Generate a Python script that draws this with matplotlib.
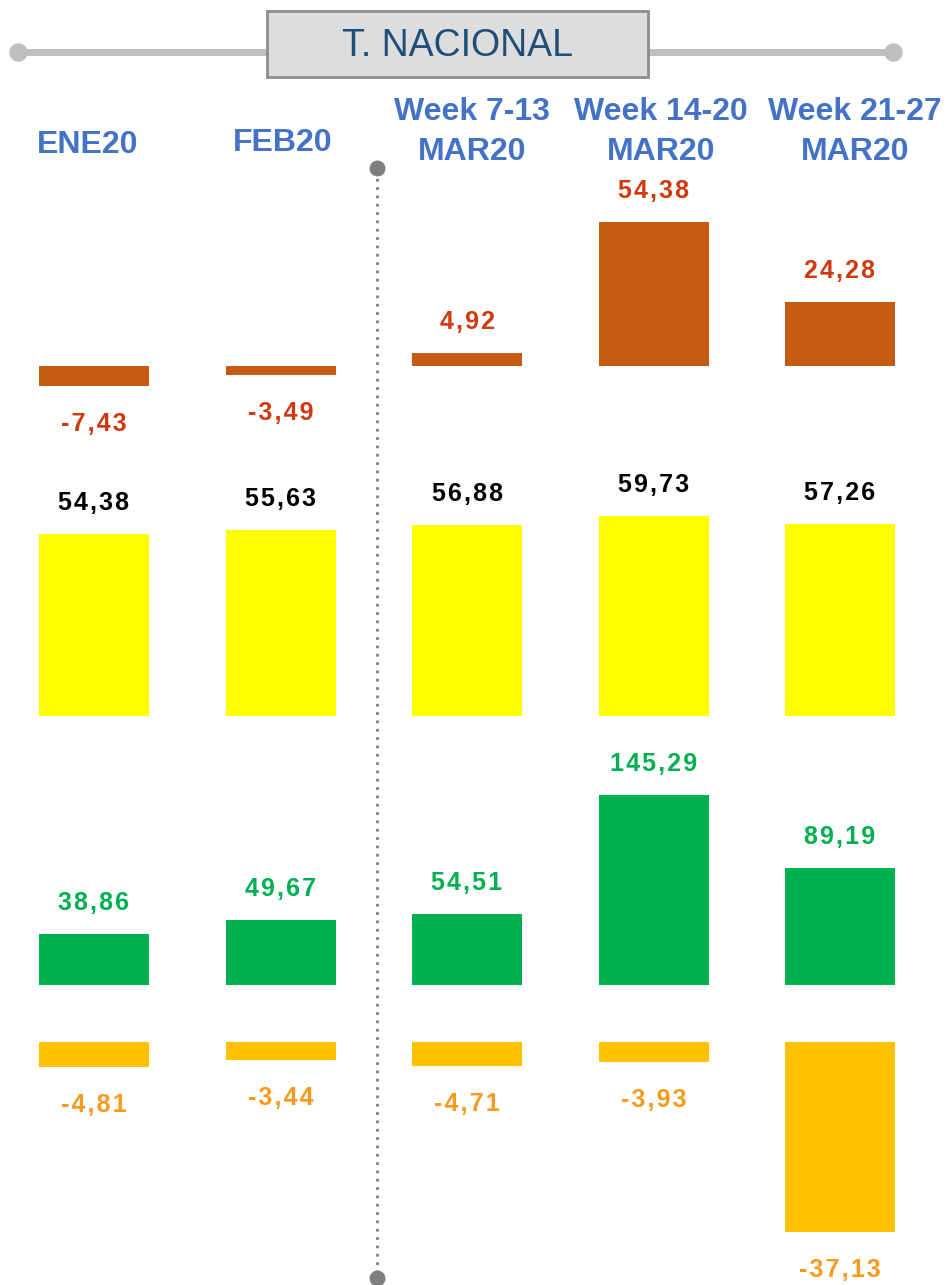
import matplotlib
matplotlib.use("Agg")
import matplotlib.pyplot as plt
from matplotlib.patches import Rectangle
import numpy as np

W, H = 951, 1285

# periods shown as columns
periods = ["ENE20", "FEB20", "Week 7-13\nMAR20", "Week 14-20\nMAR20", "Week 21-27\nMAR20"]

# four rows of indicators
row1 = [-7.43, -3.49, 4.92, 54.38, 24.28]
row2 = [54.38, 55.63, 56.88, 59.73, 57.26]
row3 = [38.86, 49.67, 54.51, 145.29, 89.19]
row4 = [-4.81, -3.44, -4.71, -3.93, -37.13]

rows = [row1, row2, row3, row4]
bar_colors = ["#C55A11", "#FFFF00", "#00B050", "#FFC000"]
text_colors = ["#D0390F", "#000000", "#00B050", "#F79A1E"]
# baseline (px from top) and px per unit for each row
baselines = [366, 716, 985, 1042]
scales = [2.65, 3.35, 1.31, 5.12]

fig = plt.figure(figsize=(W / 100, H / 100), dpi=100)

x = np.arange(len(periods))
step = 186.5
x0 = 94
xlim = (-x0 / step, (W - x0) / step)
bw = 110 / step

FAM = ["Liberation Sans", "DejaVu Sans"]


def fmt(v):
    s = "{:.2f}".format(v).replace(".", ",")
    return "\u200a".join(s)  # slight letter spacing like the original


for vals, bc, tc, base, sc in zip(rows, bar_colors, text_colors, baselines, scales):
    top_px = base - 230
    bot_px = base + 230
    ax = fig.add_axes([0, 1 - bot_px / H, 1, (bot_px - top_px) / H])
    ax.set_xlim(*xlim)
    ax.set_ylim(-(bot_px - base) / sc, (base - top_px) / sc)
    ax.axis("off")
    ax.patch.set_alpha(0)
    ax.bar(x, vals, width=bw, color=bc)
    for xi, v in zip(x, vals):
        off = 31 / sc if v >= 0 else -38 / sc
        ax.text(xi, v + off, fmt(v), ha="center", va="center", color=tc,
                fontsize=18, fontweight="bold", family=FAM)

# overlay in pixel coords for decorations
ov = fig.add_axes([0, 0, 1, 1])
ov.set_xlim(0, W)
ov.set_ylim(H, 0)
ov.axis("off")
ov.patch.set_alpha(0)

# title bar
ov.plot([18, 267], [52, 52], color="#BFBFBF", lw=5, solid_capstyle="butt", zorder=1)
ov.plot([648, 893], [52, 52], color="#BFBFBF", lw=5, solid_capstyle="butt", zorder=1)
ov.scatter([18, 893], [52, 52], s=150, color="#BFBFBF", zorder=2)
ov.add_patch(Rectangle((267, 11), 381, 66, facecolor="#DDDDDD", edgecolor="#8C8C8C", lw=2, zorder=3))
ov.text(457, 46, "T. NACIONAL", ha="center", va="center", fontsize=27, color="#1F4E79",
        family=FAM, zorder=4)

# column headers
hx = [88, 283, 472, 661, 855]
hy = [145, 143, 132, 132, 132]
for px, py, lab in zip(hx, hy, periods):
    ov.text(px, py, lab, ha="center", va="center", fontsize=23, fontweight="bold",
            color="#4472C4", family=FAM, linespacing=1.45)

# dotted divider
ov.plot([377, 377], [170, 1276], color="#7F7F7F", lw=2, ls=(0, (1, 2)))
ov.scatter([377, 377], [168, 1278], s=110, color="#7F7F7F", zorder=5)

fig.savefig("out.png", dpi=100)
